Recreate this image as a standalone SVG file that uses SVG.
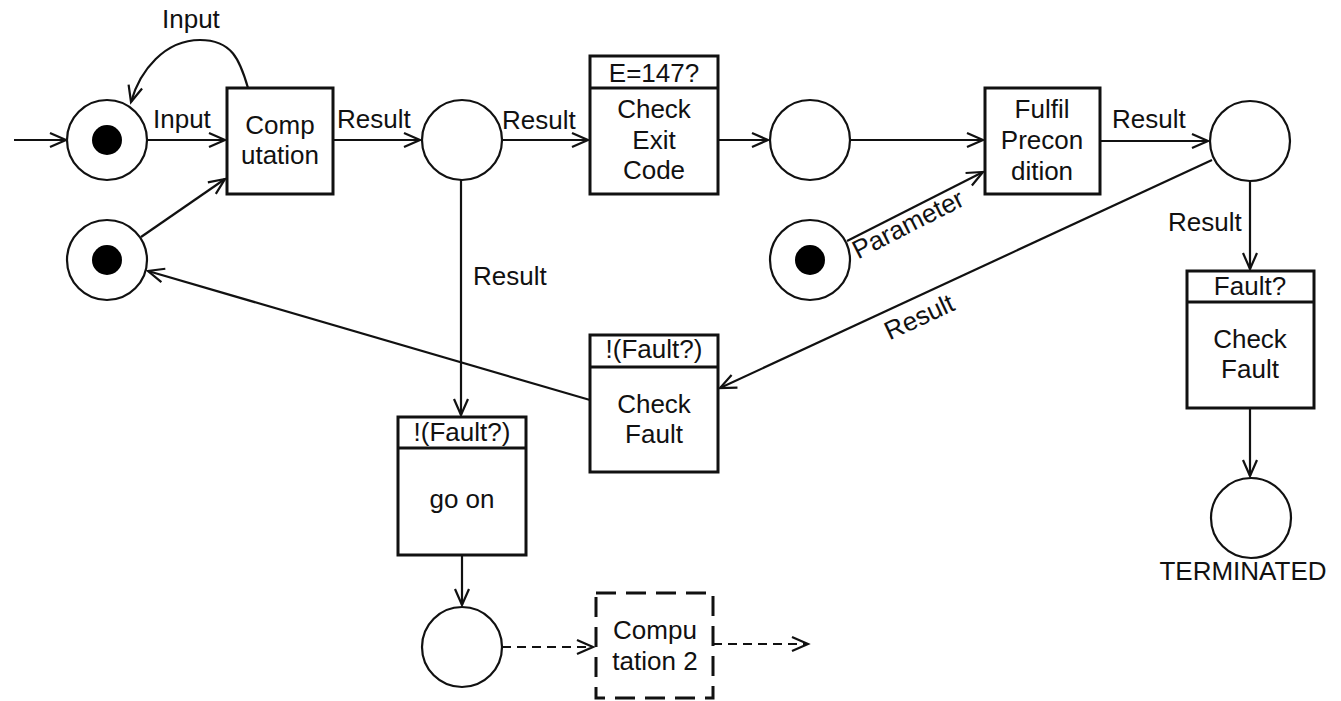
<svg xmlns="http://www.w3.org/2000/svg" width="1341" height="701" viewBox="0 0 1341 701">
<style>
text{font-family:"Liberation Sans",Arial,sans-serif;font-size:26px;fill:#111}
.c{text-anchor:middle}
.place{fill:#fff;stroke:#111;stroke-width:2.2}
.tok{fill:#000}
.tr{fill:#fff;stroke:#111;stroke-width:3}
.hl{stroke:#111;stroke-width:3}
.dtr{fill:#fff;stroke:#111;stroke-width:3;stroke-dasharray:20 10}
.e{fill:none;stroke:#111;stroke-width:2.2;marker-end:url(#a)}
.d{stroke-dasharray:9 6}
</style>
<defs>
<marker id="a" markerUnits="userSpaceOnUse" viewBox="-18 -9 20 18" markerWidth="20" markerHeight="18" refX="0" refY="0" orient="auto" overflow="visible">
<path d="M-16,-7 L0,0 L-16,7" fill="none" stroke="#111" stroke-width="2.2" stroke-dasharray="none"/>
</marker>
</defs>
<rect width="1341" height="701" fill="#fff"/>
<g id="connectors">
<line class="e" x1="14" y1="140" x2="66" y2="140"/>
<line class="e" x1="147" y1="140" x2="225" y2="140"/>
<path class="e" d="M248,88 C240,60 232,40 200,40 C165,40 140,70 131,102"/>
<line class="e" x1="141" y1="237" x2="225" y2="179"/>
<line class="e" x1="333" y1="140" x2="420" y2="140"/>
<line class="e" x1="502" y1="140" x2="588" y2="140"/>
<line class="e" x1="718" y1="140" x2="768" y2="140"/>
<line class="e" x1="850" y1="140" x2="983" y2="140"/>
<line class="e" x1="847" y1="241" x2="983" y2="172"/>
<line class="e" x1="1100" y1="141" x2="1208" y2="141"/>
<line class="e" x1="1250" y1="181" x2="1250" y2="269"/>
<line class="e" x1="1212" y1="160" x2="720" y2="388"/>
<line class="e" x1="590" y1="400" x2="148" y2="271"/>
<line class="e" x1="461" y1="180" x2="461" y2="415"/>
<line class="e" x1="1250" y1="408" x2="1250" y2="476"/>
<line class="e" x1="462" y1="555" x2="462" y2="605"/>
<line class="e d" x1="502" y1="647" x2="593" y2="647"/>
<line class="e d" x1="713" y1="644" x2="808" y2="644"/>
<text x="153" y="128">Input</text>
<text x="162" y="28">Input</text>
<text x="337" y="128">Result</text>
<text x="502" y="129">Result</text>
<text x="473" y="285">Result</text>
<text x="1112" y="128">Result</text>
<text x="1168" y="231">Result</text>
<text class="c" transform="translate(912,232) rotate(-27)">Parameter</text>
<text class="c" transform="translate(923,325) rotate(-25)">Result</text>
</g>
<g id="p-start"><circle class="place" cx="107" cy="140" r="40"/><circle class="tok" cx="107" cy="140" r="15"/></g>
<g id="p-res"><circle class="place" cx="107" cy="260" r="40"/><circle class="tok" cx="107" cy="260" r="15"/></g>
<g id="t-comp"><rect class="tr" x="227" y="88" width="106" height="106"/><text class="c" x="280" y="134">Comp</text><text class="c" x="280" y="164">utation</text></g>
<g id="p-result1"><circle class="place" cx="462" cy="140" r="40"/></g>
<g id="t-exit"><rect class="tr" x="590" y="56" width="128" height="138"/><line class="hl" x1="590" y1="88" x2="718" y2="88"/><text class="c" x="654" y="82">E=147?</text><text class="c" x="654" y="118">Check</text><text class="c" x="654" y="149">Exit</text><text class="c" x="654" y="179">Code</text></g>
<g id="p-mid"><circle class="place" cx="810" cy="140" r="40"/></g>
<g id="p-param"><circle class="place" cx="810" cy="260" r="40"/><circle class="tok" cx="810" cy="260" r="15"/></g>
<g id="t-fulfil"><rect class="tr" x="985" y="88" width="115" height="106"/><text class="c" x="1042" y="118">Fulfil</text><text class="c" x="1042" y="149">Precon</text><text class="c" x="1042" y="180">dition</text></g>
<g id="p-result2"><circle class="place" cx="1250" cy="141" r="40"/></g>
<g id="t-fault"><rect class="tr" x="1187" y="271" width="127" height="137"/><line class="hl" x1="1187" y1="302" x2="1314" y2="302"/><text class="c" x="1250" y="295">Fault?</text><text class="c" x="1250" y="348">Check</text><text class="c" x="1250" y="378">Fault</text></g>
<g id="p-term"><circle class="place" cx="1251" cy="518" r="40"/><text class="c" x="1243" y="580">TERMINATED</text></g>
<g id="t-nofault"><rect class="tr" x="590" y="335" width="128" height="137"/><line class="hl" x1="590" y1="367" x2="718" y2="367"/><text class="c" x="654" y="358">!(Fault?)</text><text class="c" x="654" y="413">Check</text><text class="c" x="654" y="443">Fault</text></g>
<g id="t-goon"><rect class="tr" x="398" y="417" width="128" height="138"/><line class="hl" x1="398" y1="448" x2="526" y2="448"/><text class="c" x="462" y="441">!(Fault?)</text><text class="c" x="462" y="508">go on</text></g>
<g id="p-next"><circle class="place" cx="462" cy="647" r="40"/></g>
<g id="t-comp2"><rect class="dtr" x="596" y="593" width="117" height="105"/><text class="c" x="655" y="639">Compu</text><text class="c" x="655" y="670">tation 2</text></g>
</svg>
